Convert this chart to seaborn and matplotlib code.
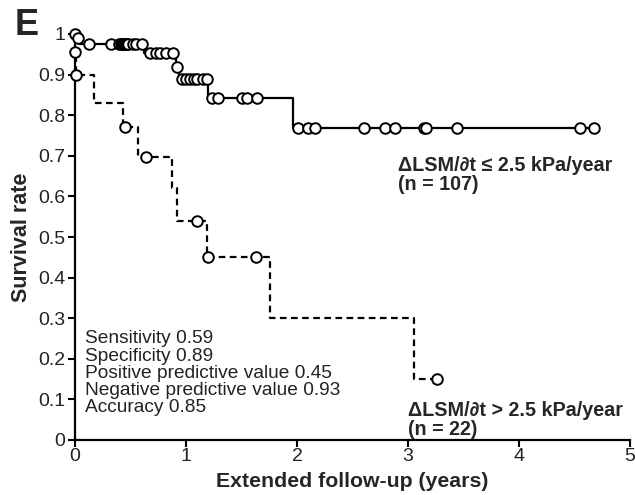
import numpy as np
import pandas as pd
import seaborn as sns
import matplotlib
matplotlib.use("Agg")
import matplotlib.pyplot as plt

# Kaplan-Meier steps, low slope group (n = 107)
low_time = [0.0, 0.02, 0.04, 0.62, 0.91, 0.94, 1.20, 1.96, 4.68]
low_surv = [1.0, 0.99, 0.975, 0.953, 0.918, 0.888, 0.842, 0.768, 0.768]
low_censor = [0.0, 0.03, 0.13, 0.32, 0.40, 0.41, 0.42, 0.43, 0.44, 0.45, 0.46,
              0.47, 0.48, 0.52, 0.55, 0.60, 0.68, 0.73, 0.77, 0.82, 0.88, 0.92,
              0.96, 1.00, 1.04, 1.07, 1.10, 1.15, 1.19, 1.23, 1.29, 1.50, 1.55,
              1.64, 2.01, 2.10, 2.16, 2.60, 2.79, 2.88, 3.14, 3.16, 3.44, 4.55, 4.68]

# high slope group (n = 22)
high_time = [0.0, 0.002, 0.008, 0.17, 0.43, 0.57, 0.87, 0.92, 1.19, 1.76, 3.05, 3.26]
high_surv = [1.0, 0.955, 0.9, 0.83, 0.77, 0.697, 0.62, 0.54, 0.45, 0.30, 0.15, 0.15]
high_censor = [0.004, 0.01, 0.45, 0.64, 1.10, 1.20, 1.63, 3.26]

y_ticks = [0, 0.1, 0.2, 0.3, 0.4, 0.5, 0.6, 0.7, 0.8, 0.9, 1.0]
y_tick_labels = ["0", "0.1", "0.2", "0.3", "0.4", "0.5", "0.6", "0.7", "0.8", "0.9", "1"]
x_ticks = [0, 1, 2, 3, 4, 5]

stats_text = ("Sensitivity 0.59\nSpecificity 0.89\nPositive predictive value 0.45\n"
              "Negative predictive value 0.93\nAccuracy 0.85")
low_label = "\u0394LSM/\u2202t \u2264 2.5 kPa/year\n(n = 107)"
high_label = "\u0394LSM/\u2202t > 2.5 kPa/year\n(n = 22)"


def censor_points(times, step_t, step_s):
    idx = np.searchsorted(step_t, times, side="right") - 1
    return pd.DataFrame({"t": times, "s": np.asarray(step_s)[idx]})


sns.set_style("ticks")
plt.rcParams["font.family"] = ["Liberation Sans", "DejaVu Sans"]

fig = plt.figure(figsize=(6.35, 4.95), dpi=100)
ax = fig.add_axes([75 / 635, 1 - 440 / 495, 555 / 635, 406 / 495])

low_df = pd.DataFrame({"t": low_time, "s": low_surv})
high_df = pd.DataFrame({"t": high_time, "s": high_surv})

sns.lineplot(data=low_df, x="t", y="s", drawstyle="steps-post", estimator=None,
             sort=False, color="black", linewidth=1.6, ax=ax, clip_on=False)
sns.lineplot(data=high_df, x="t", y="s", drawstyle="steps-post", estimator=None,
             sort=False, color="black", linewidth=1.6, linestyle=(0, (3, 2)),
             ax=ax, clip_on=False)

for cens, st, ss in [(low_censor, low_time, low_surv), (high_censor, high_time, high_surv)]:
    pts = censor_points(cens, st, ss)
    sns.scatterplot(data=pts, x="t", y="s", marker="o", s=58, color="white",
                    edgecolor="black", linewidth=1.4, zorder=3, clip_on=False, ax=ax)

ax.set_xlim(0, 5)
ax.set_ylim(0, 1)
ax.set_xticks(x_ticks)
ax.set_yticks(y_ticks)
ax.set_yticklabels(y_tick_labels)
ax.tick_params(labelsize=14, length=5, width=1.5, color="black", labelcolor="#222222")
ax.tick_params(axis="x", pad=1)
ax.tick_params(axis="y", pad=2)
for side in ["top", "right"]:
    ax.spines[side].set_visible(False)
for side in ["left", "bottom"]:
    ax.spines[side].set_linewidth(1.6)
    ax.spines[side].set_color("black")

ax.set_xlabel("Extended follow-up (years)", fontsize=15.3, fontweight="bold", labelpad=4.5)
ax.set_ylabel("Survival rate", fontsize=15.5, fontweight="bold", labelpad=4)

ax.text(0.09, 0.27, stats_text, fontsize=13.8, va="top", ha="left",
        linespacing=1.02, color="#222222")
ax.text(2.91, 0.70, low_label, fontsize=14.2, fontweight="bold", va="top",
        ha="left", linespacing=1.0)
ax.text(3.0, 0.095, high_label, fontsize=14.2, fontweight="bold", va="top",
        ha="left", linespacing=1.0)

fig.text(15 / 635, 1 - 8 / 495, "E", fontsize=26, fontweight="bold", va="top", ha="left")

fig.savefig("out.png", dpi=100)
